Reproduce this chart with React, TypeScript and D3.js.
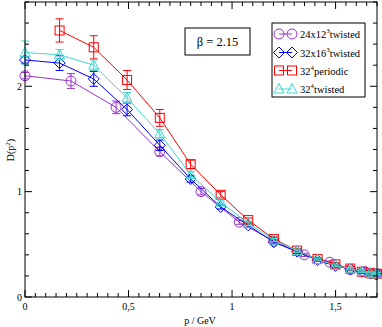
import React from "react";
import * as d3 from "d3";

// ---- data ----
const pPeriodic = [0.167, 0.332, 0.493, 0.651, 0.80, 0.945, 1.078, 1.202, 1.314, 1.413, 1.499, 1.571, 1.627, 1.667, 1.692, 1.70];
const dPeriodic = [2.53, 2.37, 2.06, 1.70, 1.26, 0.97, 0.73, 0.55, 0.44, 0.36, 0.31, 0.27, 0.24, 0.225, 0.22, 0.22];
const ePeriodic = [0.11, 0.11, 0.09, 0.08, 0.04, 0.03, 0.02, 0.02, 0.02, 0.015, 0.015, 0.015, 0.015, 0.015, 0.015, 0.015];

const p32tw = [0, 0.167, 0.332, 0.493, 0.651, 0.80, 0.945, 1.078, 1.202, 1.314, 1.413, 1.499, 1.571, 1.627, 1.667, 1.692, 1.70];
const d32tw = [2.32, 2.30, 2.20, 1.89, 1.55, 1.16, 0.90, 0.70, 0.54, 0.44, 0.355, 0.30, 0.268, 0.244, 0.228, 0.22, 0.22];
const e32tw = [0.11, 0.05, 0.05, 0.05, 0.04, 0.03, 0.02, 0.02, 0.015, 0.015, 0.012, 0.012, 0.012, 0.012, 0.012, 0.012, 0.012];

const p16tw = [0, 0.167, 0.332, 0.493, 0.651, 0.80, 0.945, 1.078, 1.202, 1.314, 1.413, 1.499, 1.571, 1.627, 1.667, 1.692, 1.70];
const d16tw = [2.25, 2.22, 2.07, 1.78, 1.44, 1.12, 0.855, 0.68, 0.52, 0.43, 0.35, 0.295, 0.265, 0.24, 0.225, 0.218, 0.215];
const e16tw = [0.03, 0.07, 0.07, 0.06, 0.05, 0.03, 0.02, 0.02, 0.015, 0.015, 0.012, 0.012, 0.012, 0.012, 0.012, 0.012, 0.012];

const p12tw = [0, 0.222, 0.44, 0.651, 0.85, 1.035, 1.202, 1.349, 1.472, 1.571, 1.642, 1.685, 1.70];
const d12tw = [2.10, 2.05, 1.80, 1.38, 1.00, 0.71, 0.53, 0.40, 0.33, 0.26, 0.24, 0.225, 0.22];
const e12tw = [0.03, 0.07, 0.06, 0.04, 0.03, 0.02, 0.015, 0.015, 0.012, 0.012, 0.012, 0.012, 0.012];

const xMajorTicks = [0, 0.5, 1, 1.5];
const xTickLabels = ["0", "0,5", "1", "1,5"];
const yMajorTicks = [0, 1, 2];
const yTickLabels = ["0", "1", "2"];

type Series = {
  p: number[]; d: number[]; e: number[];
  color: string; marker: "circle" | "diamond" | "square" | "triangle";
  label: string; sup: string; rest: string;
};

const series: Series[] = [
  { p: p12tw, d: d12tw, e: e12tw, color: "#9932cc", marker: "circle", label: "24x12", sup: "3", rest: "twisted" },
  { p: p16tw, d: d16tw, e: e16tw, color: "#0000ff", marker: "diamond", label: "32x16", sup: "3", rest: "twisted" },
  { p: pPeriodic, d: dPeriodic, e: ePeriodic, color: "#ff0000", marker: "square", label: "32", sup: "4", rest: "periodic" },
  { p: p32tw, d: d32tw, e: e32tw, color: "#40d8d0", marker: "triangle", label: "32", sup: "4", rest: "twisted" },
];

const W = 382, H = 327;
const L = 25, R = 377, T = 2, B = 297;
const FONT = "Liberation Serif, DejaVu Serif, Times New Roman, serif";

function Marker({ type, cx, cy, color }: { type: string; cx: number; cy: number; color: string }) {
  const common = { fill: "none", stroke: color, strokeWidth: 1 };
  if (type === "circle") return <circle cx={cx} cy={cy} r={5} {...common} />;
  if (type === "square") return <rect x={cx - 4.5} y={cy - 4.5} width={9} height={9} {...common} />;
  if (type === "diamond")
    return <path d={`M${cx},${cy - 5.5}L${cx + 5.5},${cy}L${cx},${cy + 5.5}L${cx - 5.5},${cy}Z`} {...common} />;
  return <path d={`M${cx},${cy - 5.5}L${cx + 5},${cy + 4}L${cx - 5},${cy + 4}Z`} {...common} />;
}

export default function App() {
  const x = d3.scaleLinear().domain([0, 1.7]).range([L, R]);
  const y = d3.scaleLinear().domain([0, 2.8]).range([B, T]);
  const line = d3.line<[number, number]>().x((d) => x(d[0])).y((d) => y(d[1]));

  const xMinor = d3.range(0, 1.7001, 0.05).filter((v) => !xMajorTicks.some((m) => Math.abs(m - v) < 1e-6));
  const yMinor = d3.range(0, 2.8001, 0.2).filter((v) => !yMajorTicks.some((m) => Math.abs(m - v) < 1e-6));

  const legendX = 272, legendY = 23, legendW = 93, legendH = 74;
  const rowY = [34, 52.5, 70.5, 89];
  const ts = { fontFamily: FONT };

  return (
    <div style={{ position: "fixed", left: 0, top: 0 }}>
      <svg width={W} height={H} style={{ display: "block", background: "#fff", fontFamily: FONT }}>
        <rect x={0} y={0} width={W} height={H} fill="#fff" />
        {/* series */}
        {series.map((s, si) => {
          const pts: [number, number][] = s.p.map((p, i) => [p, s.d[i]]);
          return (
            <g key={si}>
              <path d={line(pts) || ""} fill="none" stroke={s.color} strokeWidth={1} />
              {pts.map(([p, d], i) => {
                const cx = x(p), y1 = y(d + s.e[i]), y2 = y(d - s.e[i]);
                return (
                  <g key={i}>
                    <line x1={cx} x2={cx} y1={y1} y2={y2} stroke={s.color} strokeWidth={1} />
                    <line x1={cx - 4} x2={cx + 4} y1={y1} y2={y1} stroke={s.color} strokeWidth={1} />
                    <line x1={cx - 4} x2={cx + 4} y1={y2} y2={y2} stroke={s.color} strokeWidth={1} />
                    <Marker type={s.marker} cx={cx} cy={y(d)} color={s.color} />
                  </g>
                );
              })}
            </g>
          );
        })}

        {/* frame */}
        <rect x={L} y={T} width={R - L} height={B - T} fill="none" stroke="#000" strokeWidth={1} />
        {xMajorTicks.map((v) => (
          <g key={"xM" + v}>
            <line x1={x(v)} x2={x(v)} y1={B} y2={B - 7} stroke="#000" />
            <line x1={x(v)} x2={x(v)} y1={T} y2={T + 7} stroke="#000" />
          </g>
        ))}
        {xMinor.map((v) => (
          <g key={"xm" + v}>
            <line x1={x(v)} x2={x(v)} y1={B} y2={B - 4} stroke="#000" />
            <line x1={x(v)} x2={x(v)} y1={T} y2={T + 4} stroke="#000" />
          </g>
        ))}
        {yMajorTicks.map((v) => (
          <g key={"yM" + v}>
            <line x1={L} x2={L + 7} y1={y(v)} y2={y(v)} stroke="#000" />
            <line x1={R} x2={R - 7} y1={y(v)} y2={y(v)} stroke="#000" />
          </g>
        ))}
        {yMinor.map((v) => (
          <g key={"ym" + v}>
            <line x1={L} x2={L + 4} y1={y(v)} y2={y(v)} stroke="#000" />
            <line x1={R} x2={R - 4} y1={y(v)} y2={y(v)} stroke="#000" />
          </g>
        ))}
        {xMajorTicks.map((v, i) => (
          <text key={"xl" + v} x={x(v)} y={310} fontSize={10} textAnchor="middle" fill="#000" style={ts}>
            {xTickLabels[i]}
          </text>
        ))}
        {yMajorTicks.map((v, i) => (
          <text key={"yl" + v} x={22} y={y(v) + 3.5} fontSize={10} textAnchor="end" fill="#000" style={ts}>
            {yTickLabels[i]}
          </text>
        ))}
        <text x={200} y={324} fontSize={10} textAnchor="middle" fill="#000" style={ts}>p / GeV</text>
        <text transform={`translate(14,150) rotate(-90)`} fontSize={10} textAnchor="middle" fill="#000" style={ts}>
          D(p<tspan fontSize={7} dy={-4}>2</tspan><tspan dy={4}>)</tspan>
        </text>

        <rect x={185} y={28} width={65} height={27} fill="#fff" stroke="#000" strokeWidth={1} />
        <text x={217.5} y={46} fontSize={12.5} textAnchor="middle" fill="#000" style={ts}>β = 2.15</text>

        <rect x={legendX} y={legendY} width={legendW} height={legendH} fill="#fff" stroke="#000" strokeWidth={1} />
        {series.map((s, i) => {
          const ry = rowY[i];
          return (
            <g key={"lg" + i}>
              <line x1={279} x2={292} y1={ry} y2={ry} stroke={s.color} strokeWidth={1} />
              <Marker type={s.marker} cx={279} cy={ry} color={s.color} />
              <Marker type={s.marker} cx={292} cy={ry} color={s.color} />
              <text x={300} y={ry + 4} fontSize={10.5} fill="#000" style={ts}>
                {s.label}
                <tspan fontSize={7} dy={-5}>{s.sup}</tspan>
                <tspan dy={5}>{s.rest}</tspan>
              </text>
            </g>
          );
        })}
      </svg>
    </div>
  );
}
